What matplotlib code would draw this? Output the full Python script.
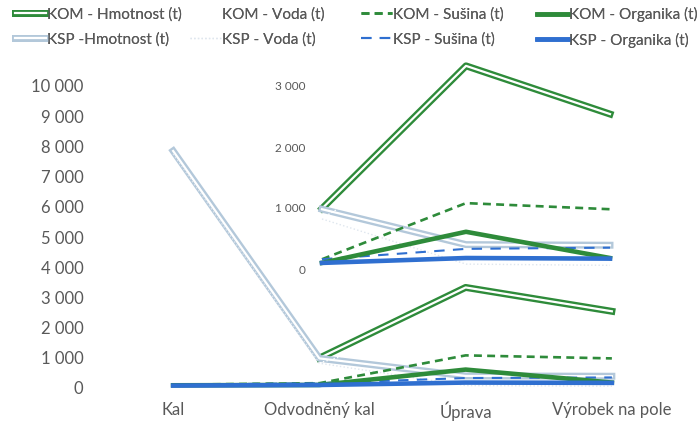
import matplotlib.pyplot as plt
import matplotlib.patheffects as pe
from matplotlib.ticker import FuncFormatter
import numpy as np

plt.rcParams['font.family'] = ['Lato', 'DejaVu Sans']

categories = ['Kal', 'Odvodněný kal', 'Úprava', 'Výrobek na pole']

kom_hmotnost = [np.nan, 990, 3330, 2540]
kom_voda = [np.nan, 830, 2250, 1560]
kom_susina = [110, 160, 1080, 980]
kom_organika = [90, 100, 610, 180]

ksp_hmotnost = [7850, 980, 400, 390]
ksp_voda = [7750, 820, 80, 60]
ksp_susina = [110, 160, 330, 350]
ksp_organika = [80, 100, 180, 170]

green = '#2e8b3a'
blue = '#2f6fd0'
light = '#b3c8da'
grey = '#595959'


def fmt(v, pos):
    return f'{int(v):,}'.replace(',', ' ')


def draw(ax, x, idx):
    def sub(vals):
        return [vals[i] for i in idx]
    lines = []
    lines += ax.plot(x, sub(kom_hmotnost), color='white', lw=1.6, clip_on=False,
                     path_effects=[pe.Stroke(linewidth=5.0, foreground=green), pe.Normal()],
                     label='KOM - Hmotnost (t)')
    lines += ax.plot(x, sub(ksp_hmotnost), color='white', lw=1.6, clip_on=False,
                     path_effects=[pe.Stroke(linewidth=5.0, foreground=light), pe.Normal()],
                     label='KSP -Hmotnost (t)')
    lines += ax.plot(x, sub(kom_voda), color='white', lw=1, ls=':', clip_on=False,
                     label='KOM - Voda (t)')
    lines += ax.plot(x, sub(ksp_voda), color='#dfe6ee', lw=1, ls=':', clip_on=False,
                     label='KSP - Voda (t)')
    lines += ax.plot(x, sub(kom_susina), color=green, lw=1.9, ls=(0, (3, 2)), clip_on=False,
                     label='KOM - Sušina (t)')
    lines += ax.plot(x, sub(ksp_susina), color=blue, lw=1.5, ls=(0, (5, 4)), clip_on=False,
                     label='KSP - Sušina (t)')
    lines += ax.plot(x, sub(kom_organika), color=green, lw=3.3, clip_on=False,
                     label='KOM - Organika (t)')
    lines += ax.plot(x, sub(ksp_organika), color=blue, lw=3.3, clip_on=False,
                     label='KSP - Organika (t)')
    return lines


fig = plt.figure(figsize=(7, 4.21), dpi=100)

# main axes
ax = fig.add_axes([100 / 700, 33 / 421, 585 / 700, 302 / 421])
x = np.arange(len(categories))
lines = draw(ax, x, range(4))
ax.set_xlim(-0.5, 3.5)
ax.set_ylim(0, 10000)
ax.set_yticks(np.arange(0, 10001, 1000))
ax.yaxis.set_major_formatter(FuncFormatter(fmt))
ax.set_xticks(x)
ax.set_xticklabels(categories)
ax.tick_params(axis='y', length=0, labelsize=12, colors=grey, pad=12)
ax.tick_params(axis='x', length=0, labelsize=12, colors=grey, pad=10)
for s in ax.spines.values():
    s.set_visible(False)
ax.patch.set_alpha(0)

# inset axes (zoom on the last three steps)
ins = fig.add_axes([322 / 700, 152 / 421, 288 / 700, 183 / 421])
draw(ins, np.arange(3), [1, 2, 3])
ins.set_xlim(0, 2)
ins.set_ylim(0, 3000)
ins.set_yticks([0, 1000, 2000, 3000])
ins.yaxis.set_major_formatter(FuncFormatter(fmt))
ins.set_xticks([])
ins.tick_params(axis='y', length=0, labelsize=8.5, colors=grey, pad=12)
for s in ins.spines.values():
    s.set_visible(False)
ins.patch.set_alpha(0)

# legend: four columns, KOM on top row, KSP below
col_x = [15, 190, 361, 537]
pairs = [(0, 1), (2, 3), (4, 5), (6, 7)]
for cx, (a, b) in zip(col_x, pairs):
    leg = fig.legend([lines[a], lines[b]], [lines[a].get_label(), lines[b].get_label()],
                     loc='upper left', bbox_to_anchor=(cx / 700, 1 - 7 / 421),
                     frameon=False, fontsize=11, handlelength=2.0, handletextpad=0.1,
                     labelcolor=grey, labelspacing=0.7, borderpad=0, borderaxespad=0)
    fig.add_artist(leg)

fig.savefig('out.png', dpi=100)
